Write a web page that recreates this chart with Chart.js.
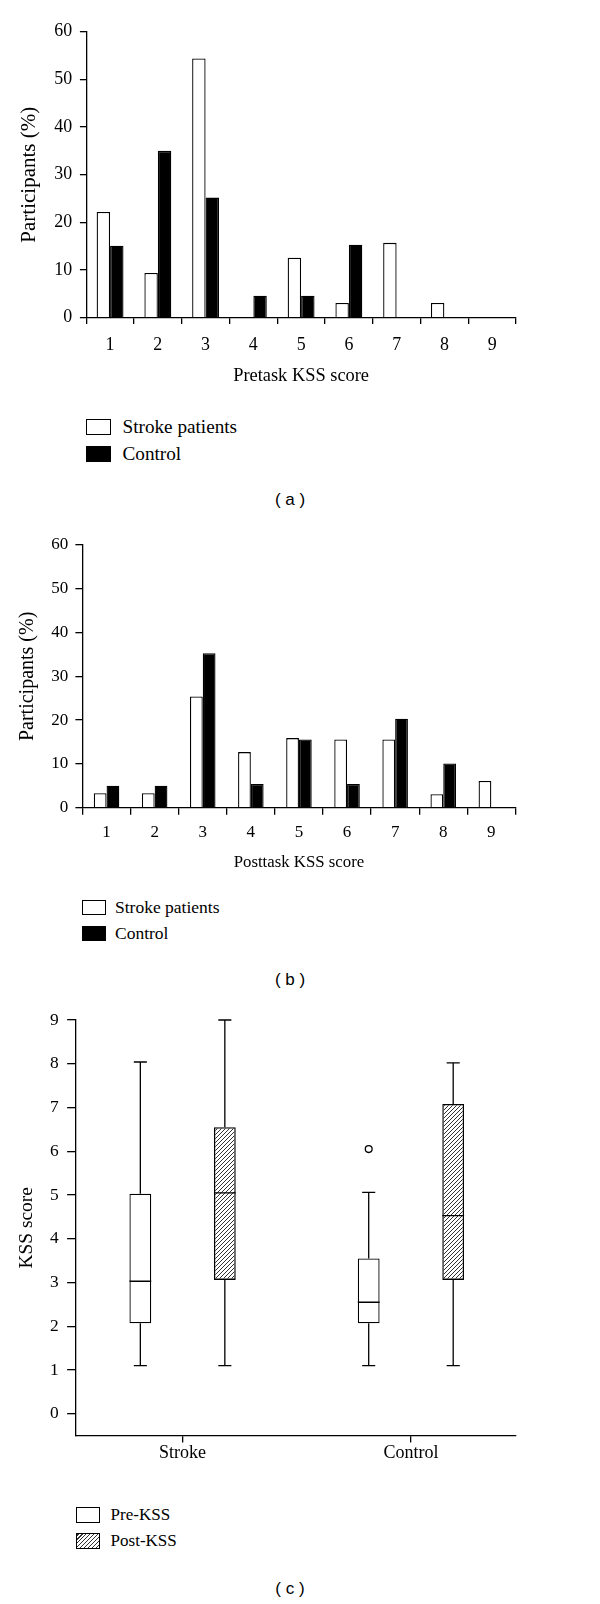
<!DOCTYPE html>
<html>
<head>
<meta charset="utf-8">
<script src="https://cdn.jsdelivr.net/npm/chart.js@4"></script>
<style>
  html, body { margin: 0; padding: 0; background: #fff; }
  body { width: 600px; height: 1604px; position: relative; overflow: hidden; font-family: "Liberation Serif", serif; color: #000; }
  canvas { position: absolute; left: 0; }
  .item { position: absolute; display: flex; align-items: center; white-space: nowrap; }
  .swatch { box-sizing: border-box; border: 1.3px solid #000; background: #fff; flex: none; }
  .swatch.black { background: #000; }
  .swatch.hatch { background: repeating-linear-gradient(-45deg, #fff 0px, #fff 1.6px, #333 1.6px, #333 2.8px); }
  .caption { position: absolute; left: 0; width: 580px; text-align: center; font-family: "Liberation Sans", sans-serif; font-size: 17px; line-height: 20px; }
</style>
</head>
<body>
<canvas id="chartA" width="600" height="400" style="top:0"></canvas>
<canvas id="chartB" width="600" height="360" style="top:520px"></canvas>
<canvas id="chartC" width="600" height="480" style="top:990px"></canvas>

<div class="item" style="left:86px;top:416px;font-size:19.2px"><div class="swatch" style="width:25px;height:16px"></div><span style="margin-left:11.5px">Stroke patients</span></div>
<div class="item" style="left:86px;top:443px;font-size:19.2px"><div class="swatch black" style="width:25px;height:16px"></div><span style="margin-left:11.5px">Control</span></div>
<div class="caption" style="top:490px">( a )</div>

<div class="item" style="left:82px;top:897px;font-size:17.5px"><div class="swatch" style="width:24px;height:15px"></div><span style="margin-left:9px">Stroke patients</span></div>
<div class="item" style="left:82px;top:923px;font-size:17.5px"><div class="swatch black" style="width:24px;height:15px"></div><span style="margin-left:9px">Control</span></div>
<div class="caption" style="top:970px">( b )</div>

<div class="item" style="left:75.6px;top:1505px;font-size:17px"><div class="swatch" style="width:24px;height:16px"></div><span style="margin-left:11px">Pre-KSS</span></div>
<div class="item" style="left:75.6px;top:1531px;font-size:17px"><div class="swatch hatch" style="width:24px;height:16px"></div><span style="margin-left:11px">Post-KSS</span></div>
<div class="caption" style="top:1579px">( c )</div>

<script>
// KSS score categories (1-9)
const kssScores = ['1', '2', '3', '4', '5', '6', '7', '8', '9'];

// (a) pretask, % of participants
const preStroke = [22.2, 9.4, 54.4, 0, 12.6, 3.1, 15.7, 3.1, 0];
const preControl = [15.1, 35.0, 25.2, 4.6, 4.6, 15.3, 0, 0, 0];

// (b) posttask, % of participants
const postStroke = [3.3, 3.3, 25.4, 12.7, 15.9, 15.6, 15.6, 3.1, 6.1];
const postControl = [5.0, 5.0, 35.3, 5.4, 15.6, 5.4, 20.3, 10.1, 0];

// (c) box plots, one entry per group
const groups = ['Stroke', 'Control'];
const groupIndex = [1, 2];
const preKssMin = [1.1, 1.1];
const preKssQ1 = [2.07, 2.07];
const preKssMedian = [3.03, 2.55];
const preKssQ3 = [5.03, 3.55];
const preKssMax = [8.04, 5.06];
const preKssOutliers = [[], [6.05]];
const postKssMin = [1.1, 1.1];
const postKssQ1 = [3.06, 3.06];
const postKssMedian = [5.05, 4.53];
const postKssQ3 = [6.55, 7.08];
const postKssMax = [9.0, 8.02];
const postKssOutliers = [[], []];
const kssTicks = [0, 1, 2, 3, 4, 5, 6, 7, 8, 9];

Chart.defaults.font.family = '"Liberation Serif", serif';
Chart.defaults.color = '#000';
Chart.defaults.animation = false;

// hatched fill for the post-task boxes
function hatchPattern() {
  const c = document.createElement('canvas');
  c.width = 4; c.height = 4;
  const g = c.getContext('2d');
  g.strokeStyle = '#333';
  g.lineWidth = 1;
  g.beginPath();
  g.moveTo(-1, 1); g.lineTo(1, -1);
  g.moveTo(0, 4); g.lineTo(4, 0);
  g.moveTo(3, 5); g.lineTo(5, 3);
  g.stroke();
  return g.createPattern(c, 'repeat');
}

function histChart(id, cfg) {
  return new Chart(id, {
    type: 'bar',
    data: {
      labels: kssScores,
      datasets: [
        { label: 'Stroke patients', data: cfg.stroke, backgroundColor: '#fff', borderColor: '#000', borderWidth: 1.3 },
        { label: 'Control', data: cfg.control, backgroundColor: '#000', borderColor: '#000', borderWidth: 1.3 }
      ]
    },
    options: {
      responsive: false,
      categoryPercentage: cfg.catPct,
      barPercentage: 1.0,
      layout: { padding: { top: cfg.top, right: cfg.right, left: 0, bottom: 0 } },
      plugins: { legend: { display: false }, tooltip: { enabled: false } },
      scales: {
        x: {
          grid: { offset: true, drawOnChartArea: false, color: '#000', lineWidth: 1.3, tickLength: cfg.tick },
          border: { color: '#000', width: 1.3 },
          ticks: { font: { size: cfg.tickFont }, padding: cfg.xPad },
          title: { display: true, text: cfg.xTitle, font: { size: cfg.titleFont }, padding: { top: 0, bottom: cfg.xTitlePad } },
          afterFit: s => { s.height = cfg.xHeight; }
        },
        y: {
          min: 0, max: 60,
          grid: { drawOnChartArea: false, color: '#000', lineWidth: 1.3, tickLength: cfg.tick },
          border: { color: '#000', width: 1.3 },
          ticks: { stepSize: 10, font: { size: cfg.tickFont }, padding: cfg.yPad },
          title: { display: true, text: 'Participants (%)', font: { size: cfg.yTitleFont }, padding: { top: cfg.yTitlePad, bottom: 0 } },
          afterFit: s => { s.width = cfg.yWidth; }
        }
      }
    }
  });
}

histChart('chartA', {
  stroke: preStroke, control: preControl, xTitle: 'Pretask KSS score',
  top: 31.7, right: 84, yWidth: 86.2, xHeight: 82.3, tick: 6.3,
  tickFont: 17.9, titleFont: 18.4, yTitleFont: 21, xPad: 10.3, yPad: 7.7,
  xTitlePad: 12.5, yTitlePad: 16.5, catPct: 0.563
});

histChart('chartB', {
  stroke: postStroke, control: postControl, xTitle: 'Posttask KSS score',
  top: 25, right: 84.6, yWidth: 82.5, xHeight: 72.3, tick: 7.1,
  tickFont: 17, titleFont: 16.8, yTitleFont: 20, xPad: 7.2, yPad: 7.1,
  xTitlePad: 7.8, yTitlePad: 15.3, catPct: 0.531
});

// whiskers, medians and outliers drawn on top of the floating bars
const boxWhiskers = {
  id: 'boxWhiskers',
  afterDatasetsDraw(chart) {
    const ctx = chart.ctx;
    const y = chart.scales.y;
    chart.data.datasets.forEach((ds, di) => {
      const meta = chart.getDatasetMeta(di);
      meta.data.forEach((bar, i) => {
        const x = bar.x, half = bar.width / 2, cap = bar.width * 0.3;
        ctx.save();
        ctx.strokeStyle = '#000';
        ctx.lineWidth = 1.3;
        ctx.beginPath();
        ctx.moveTo(x - half, y.getPixelForValue(ds.median[i]));
        ctx.lineTo(x + half, y.getPixelForValue(ds.median[i]));
        ctx.moveTo(x, y.getPixelForValue(ds.q3[i]));
        ctx.lineTo(x, y.getPixelForValue(ds.whiskerMax[i]));
        ctx.moveTo(x - cap, y.getPixelForValue(ds.whiskerMax[i]));
        ctx.lineTo(x + cap, y.getPixelForValue(ds.whiskerMax[i]));
        ctx.moveTo(x, y.getPixelForValue(ds.q1[i]));
        ctx.lineTo(x, y.getPixelForValue(ds.whiskerMin[i]));
        ctx.moveTo(x - cap, y.getPixelForValue(ds.whiskerMin[i]));
        ctx.lineTo(x + cap, y.getPixelForValue(ds.whiskerMin[i]));
        ctx.stroke();
        ds.outliers[i].forEach(v => {
          ctx.beginPath();
          ctx.arc(x, y.getPixelForValue(v), 3.4, 0, Math.PI * 2);
          ctx.stroke();
        });
        ctx.restore();
      });
    });
  }
};

new Chart('chartC', {
  type: 'bar',
  data: {
    datasets: [
      {
        label: 'Pre-KSS', data: groupIndex.map((g, i) => ({ x: g, y: [preKssQ1[i], preKssQ3[i]] })),
        q1: preKssQ1, q3: preKssQ3, median: preKssMedian, whiskerMin: preKssMin, whiskerMax: preKssMax, outliers: preKssOutliers,
        backgroundColor: '#fff', borderColor: '#000', borderWidth: 1.3, borderSkipped: false
      },
      {
        label: 'Post-KSS', data: groupIndex.map((g, i) => ({ x: g, y: [postKssQ1[i], postKssQ3[i]] })),
        q1: postKssQ1, q3: postKssQ3, median: postKssMedian, whiskerMin: postKssMin, whiskerMax: postKssMax, outliers: postKssOutliers,
        backgroundColor: hatchPattern(), borderColor: '#000', borderWidth: 1.3, borderSkipped: false
      }
    ]
  },
  options: {
    responsive: false,
    categoryPercentage: 0.74,
    barPercentage: 0.258,
    layout: { padding: { top: 30, right: 84, left: 0, bottom: 0 } },
    plugins: { legend: { display: false }, tooltip: { enabled: false } },
    scales: {
      x: {
        type: 'linear',
        min: 0.5315, max: 2.46,
        offset: false,
        afterBuildTicks: s => { s.ticks = groupIndex.map(v => ({ value: v })); },
        grid: { offset: false, drawOnChartArea: false, color: '#000', lineWidth: 1.3, tickLength: 6.7 },
        border: { color: '#000', width: 1.3 },
        ticks: { font: { size: 18 }, padding: 0.5, callback: v => groups[groupIndex.indexOf(v)] },
        afterFit: s => { s.height = 34.3; }
      },
      y: {
        min: -0.5, max: 9,
        afterBuildTicks: s => { s.ticks = kssTicks.map(v => ({ value: v })); },
        grid: { drawOnChartArea: false, color: '#000', lineWidth: 1.3, tickLength: 8.5 },
        border: { color: '#000', width: 1.3 },
        ticks: { font: { size: 17.4 }, padding: 8.5 },
        title: { display: true, text: 'KSS score', font: { size: 19.4 }, padding: { top: 15.6, bottom: 0 } },
        afterFit: s => { s.width = 75.6; }
      }
    }
  },
  plugins: [boxWhiskers]
});
</script>
</body>
</html>
